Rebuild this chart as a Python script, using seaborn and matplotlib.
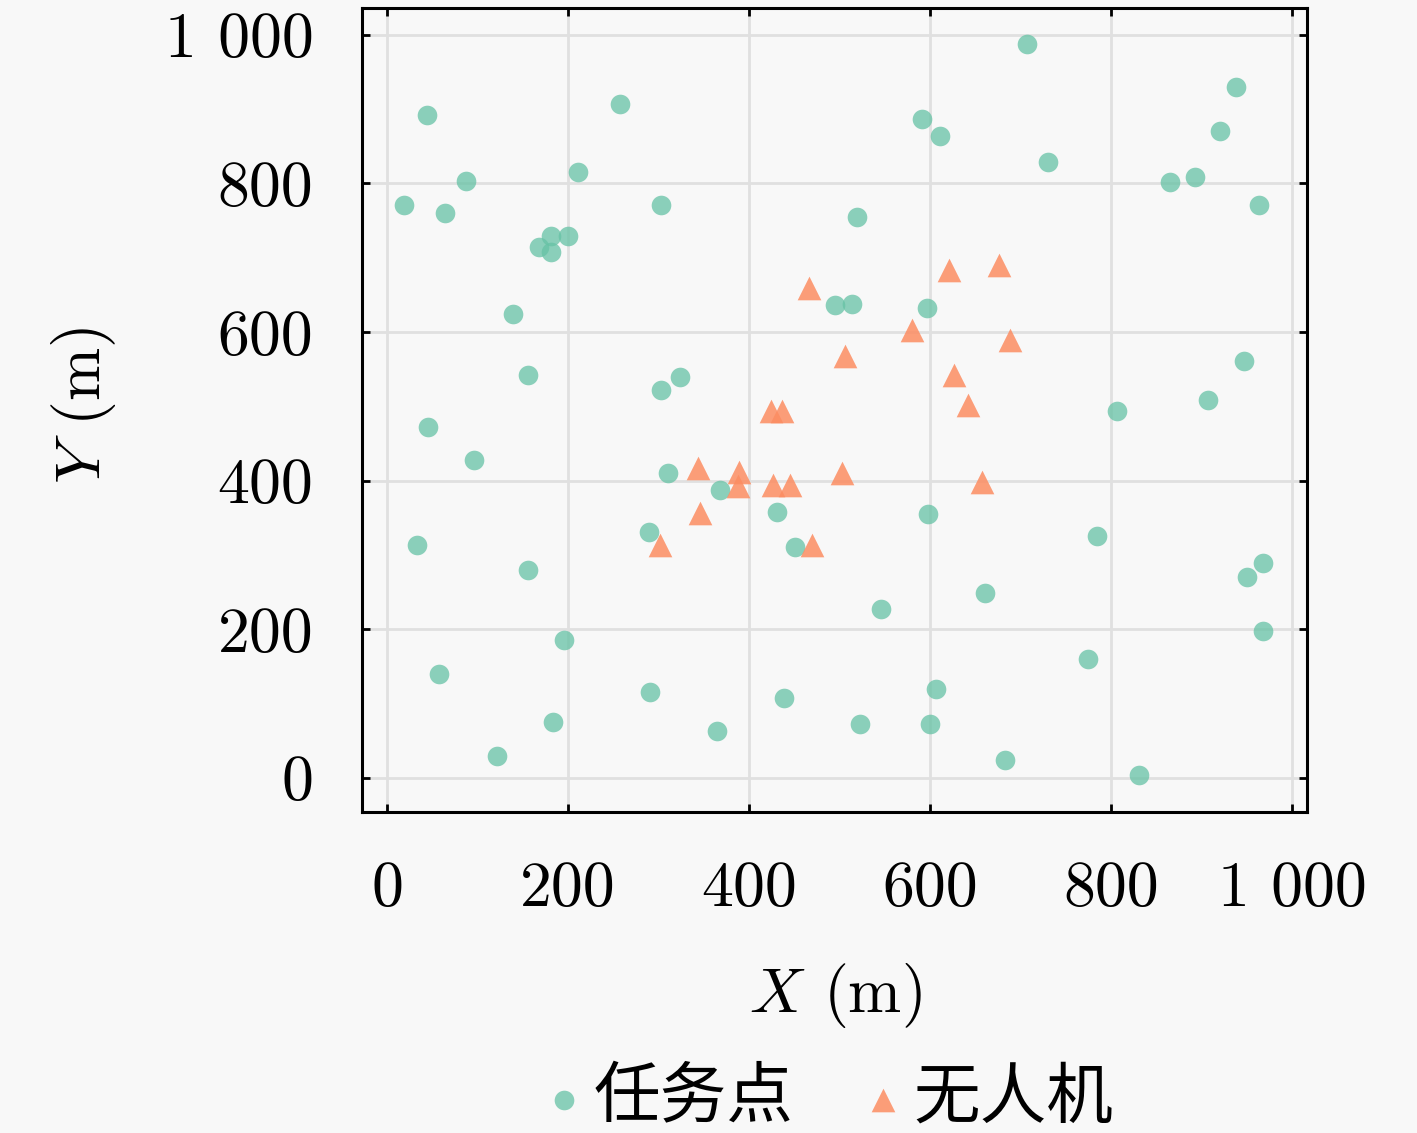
import numpy as np
import pandas as pd
import matplotlib
matplotlib.use("Agg")
import matplotlib.pyplot as plt
from matplotlib.font_manager import FontProperties
import seaborn as sns

# ---- data ----
task_x = [44, 257, 19, 64, 87, 211, 303, 181, 200, 168, 181, 139, 156, 324, 303,
          707, 938, 591, 611, 730, 920, 865, 893, 964, 519, 597, 495, 514, 947, 907,
          807, 45, 96, 33, 156, 196, 57, 291, 439, 183, 365, 122, 598, 784, 968,
          950, 661, 546, 968, 775, 607, 523, 600, 683, 831, 310, 368, 431, 289, 451]
task_y = [892, 907, 771, 760, 803, 816, 771, 729, 729, 715, 708, 624, 542, 540, 522,
          988, 930, 887, 864, 829, 871, 802, 808, 771, 755, 633, 637, 638, 561, 509,
          494, 472, 428, 314, 280, 186, 140, 116, 108, 75, 63, 30, 355, 325, 289,
          271, 249, 227, 198, 160, 120, 73, 73, 24, 4, 410, 388, 358, 331, 311]
uav_x = [466, 621, 676, 580, 688, 506, 627, 642, 424, 436, 344, 389, 388, 427, 445,
         503, 657, 346, 302, 470]
uav_y = [659, 684, 690, 603, 589, 568, 542, 502, 494, 494, 417, 412, 393, 394, 394,
         410, 398, 357, 314, 314]
series_names = ["任务点", "无人机"]
x_ticks = [0, 200, 400, 600, 800, 1000]
x_tick_labels = ["0", "200", "400", "600", "800", "1 000"]
y_ticks = [0, 200, 400, 600, 800, 1000]
y_tick_labels = ["0", "200", "400", "600", "800", "1 000"]

task_df = pd.DataFrame({"x": task_x, "y": task_y})
uav_df = pd.DataFrame({"x": uav_x, "y": uav_y})

sns.set_theme(style="whitegrid")
bg = "#f8f8f8"
plt.rcParams.update({
    "font.family": ["cmr10"],
    "mathtext.fontset": "cm",
    "axes.unicode_minus": False,
    "axes.formatter.use_mathtext": True,
    "figure.facecolor": bg,
    "axes.facecolor": bg,
    "savefig.facecolor": bg,
    "text.color": "black",
    "axes.labelcolor": "black",
    "xtick.color": "black",
    "ytick.color": "black",
})

pal = sns.color_palette("Set2")
fig = plt.figure(figsize=(14.17, 11.33), dpi=100)
ax = fig.add_axes([0.2555, 0.2833, 0.6669, 0.7096])

sns.scatterplot(data=task_df, x="x", y="y", ax=ax, marker="o", s=200,
                color=pal[0], alpha=0.75, linewidth=0, label=series_names[0])
sns.scatterplot(data=uav_df, x="x", y="y", ax=ax, marker="^", s=290,
                color=pal[1], alpha=0.85, linewidth=0, label=series_names[1])

ax.set_xlim(-27.6, 1016.6)
ax.set_ylim(-45.8, 1036)
ax.set_xticks(x_ticks, x_tick_labels)
ax.set_yticks(y_ticks, y_tick_labels)
ax.grid(True, color="#e0e0e0", linewidth=2)
for sp in ax.spines.values():
    sp.set_visible(True)
    sp.set_color("black")
    sp.set_linewidth(2.2)
ax.tick_params(axis="both", which="major", direction="in", length=6, width=2,
               labelsize=46, colors="black", labelcolor="black", top=True, right=True,
               bottom=True, left=True, pad=35)

ax.set_xlabel("$X$ (m)", fontsize=46, color="black")
ax.set_ylabel("$Y$ (m)", fontsize=46, color="black")
ax.xaxis.set_label_coords(0.5005, -0.185)
ax.yaxis.set_label_coords(-0.258, 0.506)

ax.legend_.remove()
handles, labels = ax.get_legend_handles_labels()
fig.legend(handles, labels, loc="center", bbox_to_anchor=(0.5835, 0.03),
           ncol=2, frameon=False,
           prop=FontProperties(family=["Noto Sans CJK SC"], size=48),
           labelcolor="black",
           markerscale=1.0, handletextpad=0.1, columnspacing=1.0, handlelength=0.7)

fig.savefig("out.png", dpi=100)
